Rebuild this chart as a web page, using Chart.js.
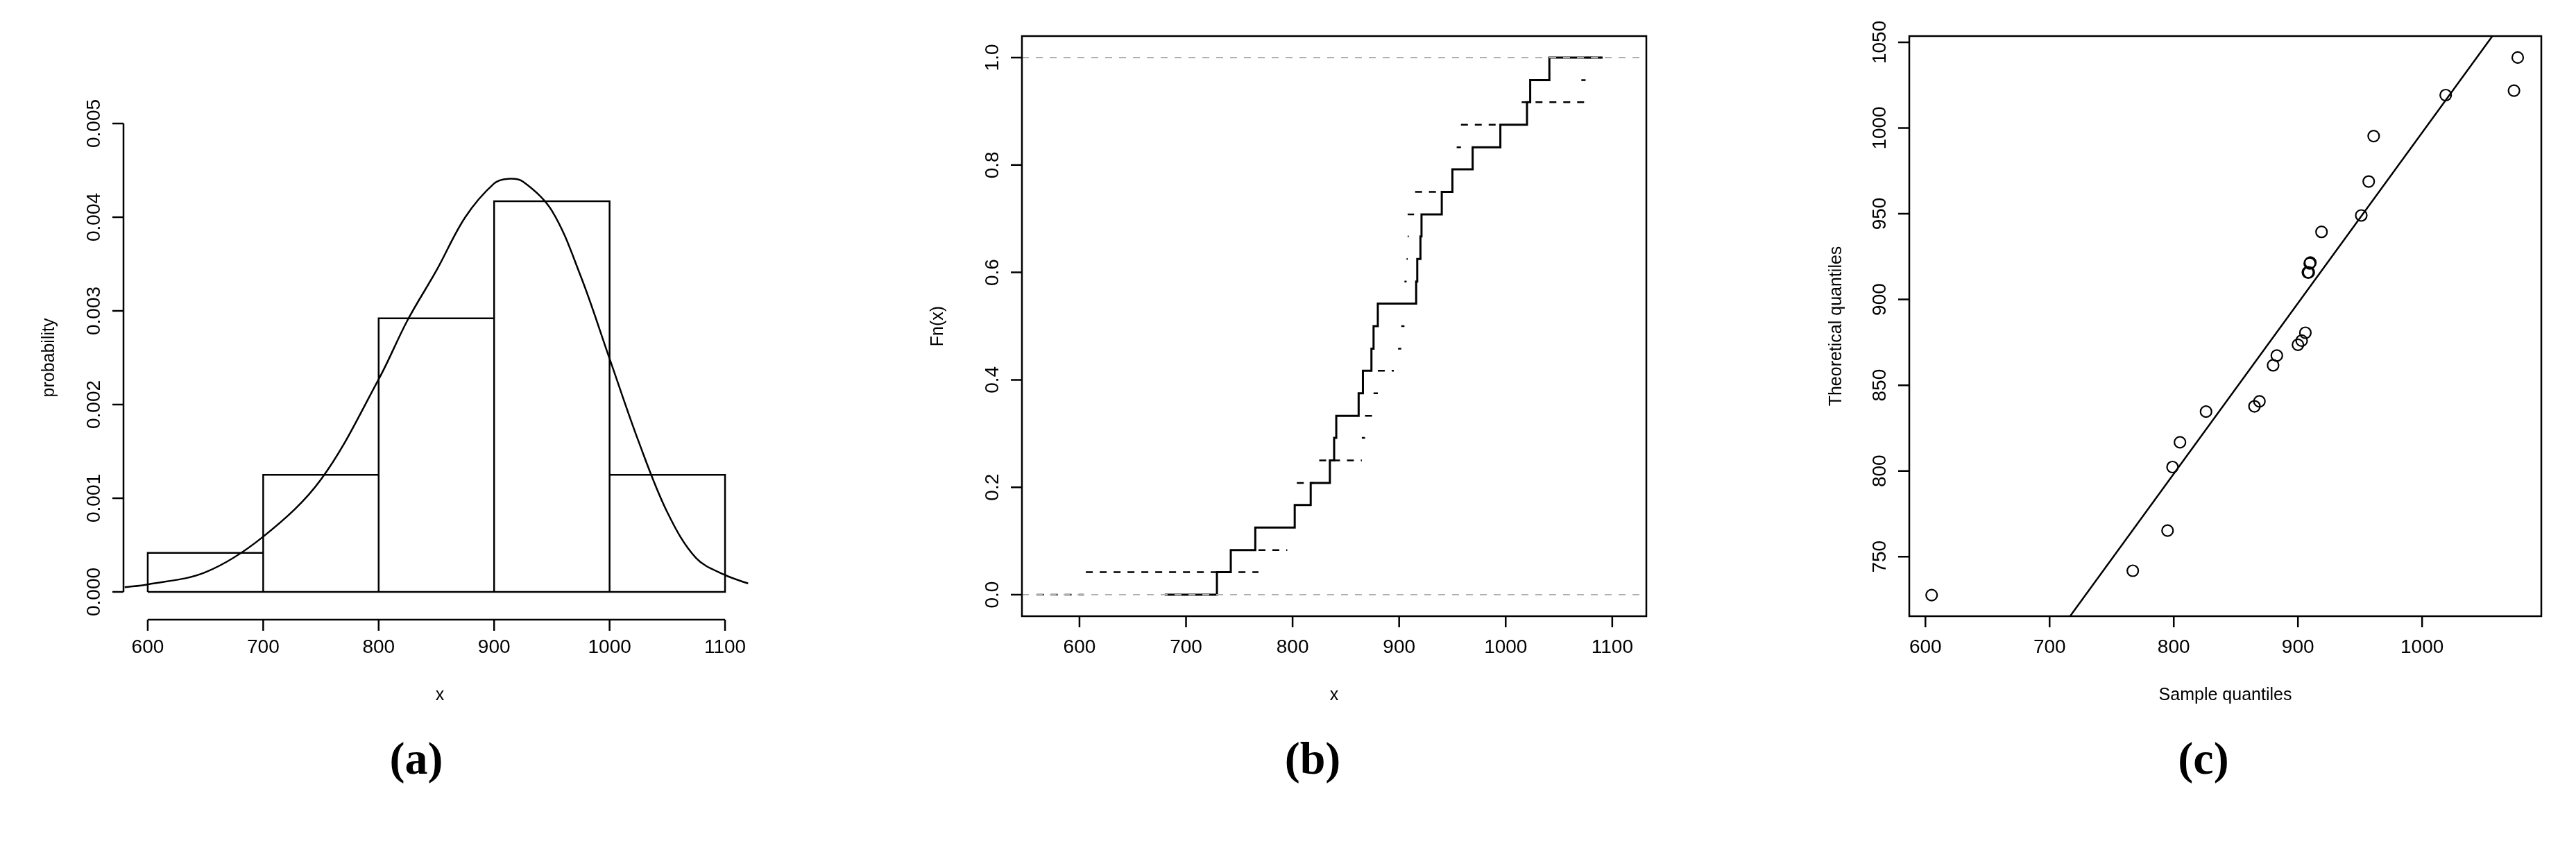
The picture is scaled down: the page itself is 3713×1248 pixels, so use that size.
<!DOCTYPE html>
<html>
<head>
<meta charset="utf-8">
<script src="https://cdn.jsdelivr.net/npm/chart.js@4"></script>
<style>
  body { margin: 0; background: #fff; width: 3713px; height: 1248px; position: relative; overflow: hidden; }
  canvas { position: absolute; left: 0; top: 0; }
  .cap { position: absolute; top: 1055px; font: bold 66px "Liberation Serif", serif; transform: translateX(-50%); }
</style>
</head>
<body>
<canvas id="ca" width="3713" height="1248"></canvas>
<canvas id="cb" width="3713" height="1248"></canvas>
<canvas id="cc" width="3713" height="1248"></canvas>
<div class="cap" style="left:600px">(a)</div>
<div class="cap" style="left:1892px">(b)</div>
<div class="cap" style="left:3176px">(c)</div>
<script>
// (a) histogram + fitted density
const binEdges = [600, 700, 800, 900, 1000, 1100]
const binDensity = [0.000417, 0.00125, 0.00292, 0.00417, 0.00125]
const curveX = [580, 600, 650, 700, 750, 800, 825, 850, 875, 900, 912, 925, 950, 975, 1000, 1025, 1050, 1075, 1100, 1120]
const curveY = [0.00005, 0.00008, 0.00021, 0.00059, 0.0012, 0.00227, 0.0029, 0.00343, 0.0040, 0.00436, 0.00441, 0.00438, 0.00407, 0.00337, 0.00249, 0.00161, 0.00085, 0.00036, 0.00018, 0.00009]
const aTicksX = [600, 700, 800, 900, 1000, 1100]
const aTicksY = ['0.000', '0.001', '0.002', '0.003', '0.004', '0.005']

// (b) empirical CDFs
const ecdfX = [729, 742, 765, 802, 817, 835, 839, 841, 862, 866, 874, 876, 880, 916, 917, 920, 921, 940, 950, 969, 995, 1020, 1023, 1041]
const ecdfLevel = [0.042, 0.083, 0.125, 0.167, 0.208, 0.25, 0.292, 0.333, 0.375, 0.417, 0.458, 0.5, 0.542, 0.583, 0.625, 0.667, 0.708, 0.75, 0.792, 0.833, 0.875, 0.917, 0.958, 1.0]
const dashStart = [560, 606, 768, 804, 825, 865, 868, 876, 880, 899, 902, 905, 907, 908, 908, 915, 954, 958, 1015, 1071, 1075]
const dashEnd = [604, 768, 795, 820, 865, 868, 878, 880, 895, 902, 905, 907, 908, 909, 914, 940, 958, 995, 1075, 1075, 1090]
const dashLevel = [0, 0.042, 0.083, 0.208, 0.25, 0.292, 0.333, 0.375, 0.417, 0.458, 0.5, 0.583, 0.625, 0.667, 0.708, 0.75, 0.833, 0.875, 0.917, 0.958, 1.0]
const bTicksX = [600, 700, 800, 900, 1000, 1100]
const bTicksY = ['0.0', '0.2', '0.4', '0.6', '0.8', '1.0']

// (c) Q-Q plot
const sampleQ = [605, 767, 795, 799, 805, 826, 865, 869, 880, 883, 900, 903, 906, 908, 908.7, 909.5, 910, 919, 951, 957, 961, 1019, 1074, 1077]
const theoQ = [727.6, 741.8, 765.2, 802.3, 816.7, 834.6, 837.7, 840.6, 861.6, 867.3, 873.6, 876, 880.6, 915.8, 915.8, 921, 921.5, 939.4, 949, 968.8, 995.3, 1019.2, 1021.8, 1041.1]
const qqLineX = [716.5, 1056.6]
const qqLineY = [715.3, 1053.6]
const cTicksX = [600, 700, 800, 900, 1000]
const cTicksY = ['750', '800', '850', '900', '950', '1000', '1050']

Chart.defaults.devicePixelRatio = 1
Chart.defaults.animation = false
const TICK_FONT = '28px "Liberation Sans", Arial, sans-serif'
const TITLE_FONT = '25px "Liberation Sans", Arial, sans-serif'

// R-style axes drawn from the chart's own scales
function rAxes(opt) {
  return {
    id: 'rAxes',
    afterDraw(chart) {
      const ctx = chart.ctx, xs = chart.scales.x, ys = chart.scales.y, a = chart.chartArea
      ctx.save()
      ctx.strokeStyle = '#000'
      ctx.fillStyle = '#000'
      ctx.lineWidth = 2.5
      const xAxisY = opt.box ? a.bottom : opt.xAxisY
      const yAxisX = a.left
      if (opt.box) ctx.strokeRect(a.left, a.top, a.right - a.left, a.bottom - a.top)
      // x axis
      const xt = opt.xTicks
      const x0 = xs.getPixelForValue(xt[0]), x1 = xs.getPixelForValue(xt[xt.length - 1])
      ctx.beginPath()
      if (!opt.box) { ctx.moveTo(x0, xAxisY); ctx.lineTo(x1, xAxisY) }
      xt.forEach(v => { const p = xs.getPixelForValue(v); ctx.moveTo(p, xAxisY); ctx.lineTo(p, xAxisY + 16) })
      // y axis
      const yt = opt.yTicks
      const y0 = ys.getPixelForValue(+yt[0]), y1 = ys.getPixelForValue(+yt[yt.length - 1])
      if (!opt.box) { ctx.moveTo(yAxisX, y0); ctx.lineTo(yAxisX, y1) }
      yt.forEach(v => { const p = ys.getPixelForValue(+v); ctx.moveTo(yAxisX, p); ctx.lineTo(yAxisX - 16, p) })
      ctx.stroke()
      ctx.font = TICK_FONT
      ctx.textAlign = 'center'
      ctx.textBaseline = 'middle'
      xt.forEach(v => ctx.fillText(String(v), xs.getPixelForValue(v), 933))
      yt.forEach(v => {
        ctx.save()
        ctx.translate(yAxisX - 42, ys.getPixelForValue(+v))
        ctx.rotate(-Math.PI / 2)
        ctx.fillText(v, 0, 0)
        ctx.restore()
      })
      ctx.font = TITLE_FONT
      ctx.fillText(opt.xTitle, (a.left + a.right) / 2, 1002)
      ctx.save()
      ctx.translate(opt.yTitleX, (a.top + a.bottom) / 2)
      ctx.rotate(-Math.PI / 2)
      ctx.fillText(opt.yTitle, 0, 0)
      ctx.restore()
      ctx.restore()
    }
  }
}

function baseOptions(area, xr, yr) {
  return {
    responsive: false,
    layout: { padding: { left: area[0], right: 3713 - area[1], top: area[2], bottom: 1248 - area[3] } },
    plugins: { legend: { display: false }, tooltip: { enabled: false } },
    scales: {
      x: { type: 'linear', display: false, min: xr[0], max: xr[1] },
      y: { type: 'linear', display: false, min: yr[0], max: yr[1] }
    }
  }
}

// panel (a)
const histPts = []
binDensity.forEach((h, i) => {
  const l = binEdges[i], r = binEdges[i + 1]
  histPts.push({ x: l, y: 0 }, { x: l, y: h }, { x: r, y: h }, { x: r, y: 0 }, { x: l, y: 0 }, { x: l, y: null })
})
new Chart(document.getElementById('ca'), {
  type: 'scatter',
  data: {
    datasets: [
      { data: histPts, showLine: true, borderColor: '#000', borderWidth: 2.5, pointRadius: 0, spanGaps: false },
      { data: curveX.map((x, i) => ({ x, y: curveY[i] })), showLine: true, borderColor: '#000', borderWidth: 2.5, pointRadius: 0, tension: 0.35 }
    ]
  },
  options: baseOptions([178, 1090, 151, 880], [579, 1127], [-0.0002, 0.0052]),
  plugins: [rAxes({ box: false, xAxisY: 893, xTicks: aTicksX, yTicks: aTicksY, xTitle: 'x', yTitle: 'probability', yTitleX: 71 })]
})

// panel (b)
const stepPts = [{ x: 680, y: 0 }].concat(ecdfX.map((x, i) => ({ x, y: ecdfLevel[i] })), [{ x: 1091, y: 1 }])
const dashPts = []
dashLevel.forEach((lv, i) => dashPts.push({ x: dashStart[i], y: lv }, { x: dashEnd[i], y: lv }, { x: dashEnd[i], y: null }))
new Chart(document.getElementById('cb'), {
  type: 'scatter',
  data: {
    datasets: [
      { data: [{ x: 546, y: 0 }, { x: 1132, y: 0 }, { x: 1132, y: null }, { x: 546, y: 1 }, { x: 1132, y: 1 }], showLine: true, borderColor: '#b0b0b0', borderWidth: 2, borderDash: [10, 10], pointRadius: 0, spanGaps: false },
      { data: dashPts, showLine: true, borderColor: '#000', borderWidth: 2.5, borderDash: [10, 10], pointRadius: 0, spanGaps: false },
      { data: stepPts, showLine: true, stepped: 'before', borderColor: '#000', borderWidth: 3, pointRadius: 0 }
    ]
  },
  options: baseOptions([1473, 2373, 52, 888], [546, 1132], [-0.04, 1.04]),
  plugins: [rAxes({ box: true, xTicks: bTicksX, yTicks: bTicksY, xTitle: 'x', yTitle: 'Fn(x)', yTitleX: 1352 })]
})

// panel (c)
new Chart(document.getElementById('cc'), {
  type: 'scatter',
  data: {
    datasets: [
      { data: sampleQ.map((x, i) => ({ x, y: theoQ[i] })), pointRadius: 8, pointBorderColor: '#000', pointBackgroundColor: 'rgba(0,0,0,0)', pointBorderWidth: 2.2 },
      { data: qqLineX.map((x, i) => ({ x, y: qqLineY[i] })), showLine: true, borderColor: '#000', borderWidth: 2.5, pointRadius: 0 }
    ]
  },
  options: baseOptions([2752, 3663, 52, 888], [587, 1096], [715.3, 1053.6]),
  plugins: [rAxes({ box: true, xTicks: cTicksX, yTicks: cTicksY, xTitle: 'Sample quantiles', yTitle: 'Theoretical quantiles', yTitleX: 2647 })]
})
</script>
</body>
</html>
